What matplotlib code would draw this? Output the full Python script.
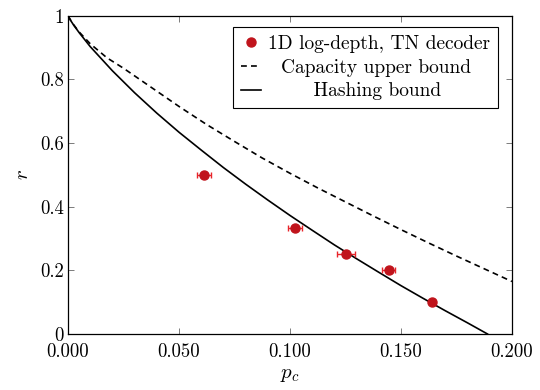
import matplotlib
matplotlib.use("Agg")
import matplotlib.pyplot as plt
from matplotlib.lines import Line2D

plt.rcParams['font.family'] = 'cmr10'
plt.rcParams['mathtext.fontset'] = 'cm'
plt.rcParams['axes.formatter.use_mathtext'] = True

# TN decoder points (p_c, r) with x error bars
pc_pts = [0.0612, 0.1023, 0.1251, 0.1444, 0.1642]
r_pts = [0.5, 0.3333, 0.25, 0.2, 0.1]
pc_err = [0.003, 0.0033, 0.004, 0.003, 0.001]

# capacity upper bound (dashed)
cap_p = [0.0, 0.001, 0.0025, 0.005, 0.01, 0.0175, 0.025, 0.0375, 0.05, 0.0625,
         0.075, 0.0875, 0.1, 0.1125, 0.125, 0.1375, 0.15, 0.1625, 0.175, 0.1875, 0.2]
cap_r = [1.0, 0.988, 0.972, 0.949, 0.912, 0.868, 0.835, 0.775, 0.715, 0.658,
         0.605, 0.553, 0.505, 0.459, 0.415, 0.371, 0.328, 0.286, 0.245, 0.205, 0.165]

# hashing bound (solid)
hash_p = [0.0, 0.001, 0.0025, 0.005, 0.01, 0.02, 0.03, 0.04, 0.05, 0.06, 0.07, 0.08,
          0.09, 0.10, 0.11, 0.12, 0.13, 0.14, 0.15, 0.16, 0.17, 0.18, 0.189]
hash_r = [1.0, 0.987, 0.971, 0.947, 0.903, 0.827, 0.758, 0.694, 0.634, 0.578, 0.523, 0.471,
          0.421, 0.3725, 0.326, 0.280, 0.2365, 0.194, 0.152, 0.112, 0.073, 0.035, 0.0]

labels = ['1D log-depth, TN decoder', '  Capacity upper bound', '       Hashing bound']
xticks = [0.0, 0.05, 0.1, 0.15, 0.2]
xtick_labels = ['0.000', '0.050', '0.100', '0.150', '0.200']
yticks = [0, 0.2, 0.4, 0.6, 0.8, 1.0]
ytick_labels = ['0', '0.2', '0.4', '0.6', '0.8', '1']

red = '#c0141c'

fig = plt.figure(figsize=(5.4, 3.9), dpi=100)
ax = fig.add_axes([0.126, 0.1436, 0.822, 0.816])

ax.errorbar(pc_pts, r_pts, xerr=pc_err, fmt='o', color=red, ecolor='#e8242a',
            ms=6.5, elinewidth=1.0, capsize=2, capthick=1.0, zorder=3)
ax.plot(cap_p, cap_r, color='black', lw=1.2, dashes=(3.5, 2.5))
ax.plot(hash_p, hash_r, color='black', lw=1.2)

ax.set_xlim(0, 0.2)
ax.set_ylim(0, 1)
ax.set_xticks(xticks)
ax.set_xticklabels(xtick_labels)
ax.set_yticks(yticks)
ax.set_yticklabels(ytick_labels)
ax.tick_params(direction='in', top=True, right=True, length=4, width=0.6,
               labelsize=13.5, color='#666666', pad=3)
ax.tick_params(axis='x', pad=6.5)
for s in ax.spines.values():
    s.set_linewidth(0.9)

ax.set_xlabel(r'$p_c$', fontsize=15, labelpad=4)
ax.set_ylabel(r'$r$', fontsize=15, labelpad=6)

handles = [Line2D([], [], ls='none', marker='o', color=red, ms=6.5),
           Line2D([], [], color='black', lw=1.2, dashes=(3.5, 2.5)),
           Line2D([], [], color='black', lw=1.2)]
leg = ax.legend(handles, labels, loc='upper right', fontsize=14, frameon=True,
                fancybox=False, framealpha=1, edgecolor='black', handlelength=1.0,
                borderpad=0.4, labelspacing=0.3, handletextpad=0.4,
                borderaxespad=0, bbox_to_anchor=(0.969, 0.9645))
leg.get_frame().set_linewidth(0.8)

fig.savefig('out.png', dpi=100)
